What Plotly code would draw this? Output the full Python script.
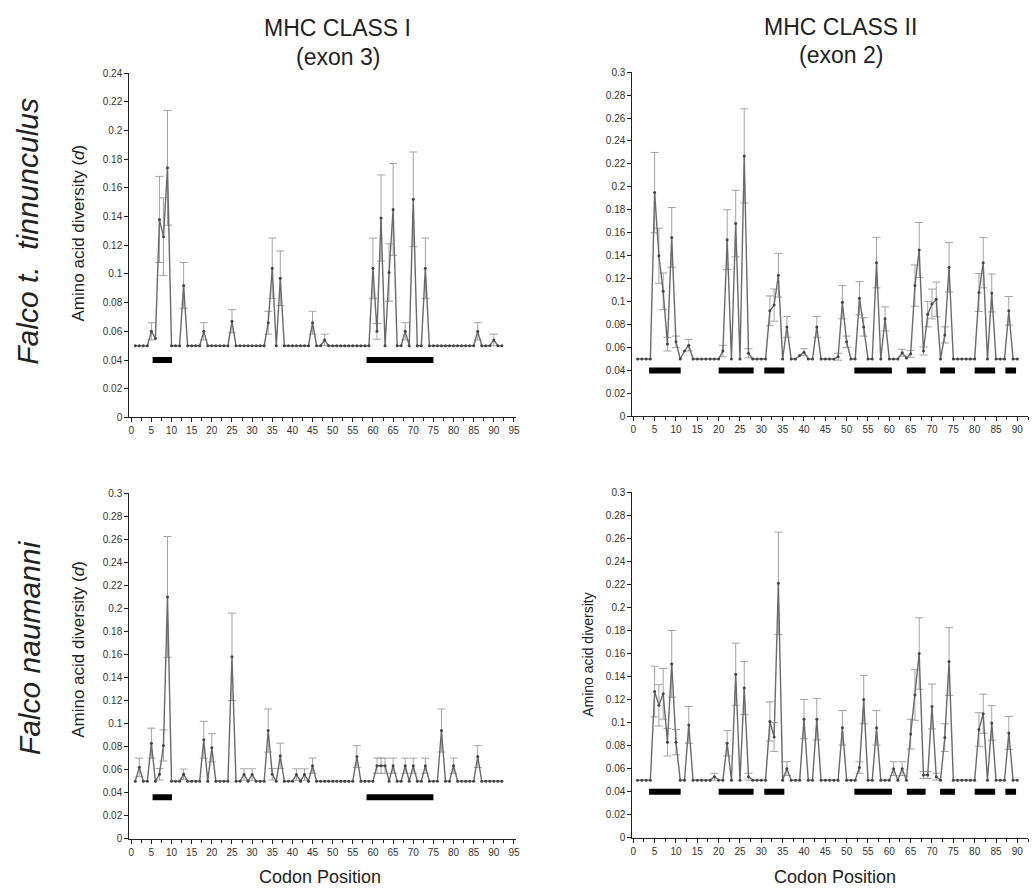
import plotly.graph_objects as go

# ---------------- data ----------------
# MHC class I (exon 3), Falco t. tinnunculus, codons 1..92
c1_tin_x = list(range(1, 93))
c1_tin_y = [0.05, 0.05, 0.05, 0.05, 0.060, 0.055, 0.138, 0.126, 0.174, 0.05,
            0.05, 0.05, 0.092, 0.05, 0.05, 0.05, 0.05, 0.060, 0.05, 0.05,
            0.05, 0.05, 0.05, 0.05, 0.067, 0.05, 0.05, 0.05, 0.05, 0.05,
            0.05, 0.05, 0.05, 0.066, 0.104, 0.05, 0.097, 0.05, 0.05, 0.05,
            0.05, 0.05, 0.05, 0.05, 0.066, 0.05, 0.05, 0.054, 0.05, 0.05,
            0.05, 0.05, 0.05, 0.05, 0.05, 0.05, 0.05, 0.05, 0.05, 0.104,
            0.060, 0.139, 0.05, 0.101, 0.145, 0.05, 0.05, 0.060, 0.05, 0.152,
            0.05, 0.05, 0.104, 0.05, 0.05, 0.05, 0.05, 0.05, 0.05, 0.05,
            0.05, 0.05, 0.05, 0.05, 0.05, 0.060, 0.05, 0.05, 0.05, 0.054,
            0.05, 0.05]
c1_tin_err = [None, None, None, None, 0.006, None, 0.030, 0.027, 0.040, None,
              None, None, 0.016, None, None, None, None, 0.006, None, None,
              None, None, None, None, 0.008, None, None, None, None, None,
              None, None, None, 0.008, 0.021, None, 0.019, None, None, None,
              None, None, None, None, 0.008, None, None, 0.004, None, None,
              None, None, None, None, None, None, None, None, None, 0.021,
              0.0055, 0.030, None, 0.020, 0.032, None, None, 0.006, None, 0.033,
              None, None, 0.021, None, None, None, None, None, None, None,
              None, None, None, None, None, 0.006, None, None, None, 0.004,
              None, None]

# MHC class II (exon 2), Falco t. tinnunculus, codons 1..90
c2_tin_x = list(range(1, 91))
c2_tin_y = [0.05, 0.05, 0.05, 0.05, 0.195, 0.140, 0.109, 0.063, 0.156, 0.065,
            0.05, 0.057, 0.062, 0.05, 0.05, 0.05, 0.05, 0.05, 0.05, 0.05,
            0.057, 0.154, 0.05, 0.168, 0.05, 0.227, 0.055, 0.05, 0.05, 0.05,
            0.05, 0.092, 0.097, 0.123, 0.05, 0.078, 0.05, 0.05, 0.053, 0.056,
            0.05, 0.05, 0.078, 0.05, 0.05, 0.05, 0.05, 0.052, 0.0995, 0.065,
            0.05, 0.05, 0.103, 0.078, 0.05, 0.05, 0.134, 0.05, 0.085, 0.05,
            0.05, 0.05, 0.0555, 0.051, 0.0545, 0.114, 0.145, 0.057, 0.089, 0.098,
            0.102, 0.05, 0.071, 0.130, 0.05, 0.05, 0.05, 0.05, 0.05, 0.05,
            0.108, 0.134, 0.05, 0.1075, 0.05, 0.05, 0.05, 0.092, 0.05, 0.05]
c2_tin_err = [None, None, None, None, 0.035, 0.024, 0.016, 0.006, 0.026, 0.005,
              None, None, 0.005, None, None, None, None, None, None, None,
              0.005, 0.026, None, 0.029, None, 0.041, 0.004, None, None, None,
              None, 0.013, 0.014, 0.019, None, 0.009, None, None, None, 0.003,
              None, None, 0.009, None, None, None, None, 0.003, 0.0145, 0.005,
              None, None, 0.0145, 0.008, None, None, 0.022, None, 0.0105, None,
              None, None, 0.003, None, 0.003, 0.018, 0.024, 0.0035, 0.011, 0.013,
              0.015, None, 0.007, 0.0215, None, None, None, None, None, None,
              0.0165, 0.022, None, 0.0165, None, None, None, 0.0125, None, None]

# MHC class I (exon 3), Falco naumanni, codons 1..92
c1_nau_x = list(range(1, 93))
c1_nau_y = [0.05, 0.062, 0.05, 0.05, 0.083, 0.05, 0.056, 0.081, 0.210, 0.05,
            0.05, 0.05, 0.056, 0.05, 0.05, 0.05, 0.05, 0.086, 0.05, 0.079,
            0.05, 0.05, 0.05, 0.05, 0.158, 0.05, 0.05, 0.0557, 0.05, 0.0557,
            0.05, 0.05, 0.05, 0.094, 0.056, 0.05, 0.072, 0.05, 0.05, 0.05,
            0.0557, 0.05, 0.0557, 0.05, 0.0634, 0.05, 0.05, 0.05, 0.05, 0.05,
            0.05, 0.05, 0.05, 0.05, 0.05, 0.0714, 0.05, 0.05, 0.05, 0.05,
            0.0634, 0.0634, 0.0634, 0.05, 0.0634, 0.05, 0.05, 0.0634, 0.05, 0.0634,
            0.05, 0.05, 0.0634, 0.05, 0.05, 0.05, 0.094, 0.05, 0.05, 0.0634,
            0.05, 0.05, 0.05, 0.05, 0.05, 0.0714, 0.05, 0.05, 0.05, 0.05,
            0.05, 0.05]
c1_nau_err = [None, 0.008, None, None, 0.013, None, 0.005, 0.0135, 0.0525, None,
              None, None, 0.0045, None, None, None, None, 0.016, None, 0.0123,
              None, None, None, None, 0.038, None, None, 0.005, None, 0.005,
              None, None, None, 0.0187, 0.005, None, 0.011, None, None, None,
              0.005, None, 0.005, None, 0.0066, None, None, None, None, None,
              None, None, None, None, None, 0.0095, None, None, None, None,
              0.0066, 0.0066, 0.0066, None, 0.0066, None, None, 0.0066, None, 0.0066,
              None, None, 0.0066, None, None, None, 0.0187, None, None, 0.0066,
              None, None, None, None, None, 0.0095, None, None, None, None,
              None, None]

# MHC class II (exon 2), Falco naumanni, codons 1..90
c2_nau_x = list(range(1, 91))
c2_nau_y = [0.05, 0.05, 0.05, 0.05, 0.127, 0.115, 0.125, 0.083, 0.151, 0.083,
            0.05, 0.05, 0.098, 0.05, 0.05, 0.05, 0.05, 0.05, 0.053, 0.05,
            0.05, 0.082, 0.05, 0.142, 0.05, 0.130, 0.053, 0.05, 0.05, 0.05,
            0.05, 0.101, 0.0875, 0.221, 0.05, 0.060, 0.05, 0.05, 0.05, 0.103,
            0.05, 0.05, 0.103, 0.05, 0.05, 0.05, 0.05, 0.05, 0.0955, 0.05,
            0.05, 0.05, 0.061, 0.120, 0.05, 0.05, 0.0955, 0.05, 0.05, 0.05,
            0.060, 0.05, 0.060, 0.05, 0.090, 0.124, 0.160, 0.0545, 0.0545, 0.114,
            0.053, 0.05, 0.087, 0.153, 0.05, 0.05, 0.05, 0.05, 0.05, 0.05,
            0.094, 0.1077, 0.05, 0.0997, 0.05, 0.05, 0.05, 0.091, 0.05, 0.05]
c2_nau_err = [None, None, None, None, 0.022, 0.018, 0.022, 0.012, 0.029, 0.011,
              None, None, 0.016, None, None, None, None, None, 0.003, None,
              None, 0.011, None, 0.027, None, 0.023, 0.003, None, None, None,
              None, 0.017, 0.0125, 0.0445, None, 0.006, None, None, None, 0.017,
              None, None, 0.018, None, None, None, None, None, 0.015, None,
              None, None, 0.005, 0.021, None, None, 0.015, None, None, None,
              0.006, None, 0.006, None, 0.013, 0.022, 0.031, 0.003, 0.003, 0.0195,
              0.003, None, 0.012, 0.0295, None, None, None, None, None, None,
              0.0146, 0.017, None, 0.015, None, None, None, 0.0143, None, None]

# black bars (putative binding-site regions)
c1_bar_start = [5.3, 58.4]
c1_bar_end = [10.1, 75.0]
c2_bar_start = [3.7, 20.0, 30.7, 51.8, 64.1, 71.9, 80.0, 87.2]
c2_bar_end = [11.1, 28.2, 35.4, 60.6, 68.5, 75.4, 84.8, 89.7]
bar_level_tin = 0.04
bar_level_nau_c1 = 0.036
bar_level_nau_c2 = 0.04

x_ticks_c1 = list(range(0, 96, 5))
x_ticks_c2 = list(range(0, 91, 5))

# ---------------- figure ----------------
W, H = 1033, 896
FONT = "Liberation Sans, Arial, sans-serif"


def fx(p):
    return p / W


def fy(p):
    return 1 - p / H


LINE_C = "#6a6a6a"
ERR_C = "#a3a3a3"
MARK_C = "#444444"

fig = go.Figure()


def add_panel(xs, ys, errs, bar_s, bar_e, bar_y, xa, ya):
    ex = [x for x, e in zip(xs, errs) if e is not None]
    ey = [y for y, e in zip(ys, errs) if e is not None]
    ee = [e for e in errs if e is not None]
    fig.add_trace(go.Scatter(
        x=ex, y=ey, mode="markers", xaxis=xa, yaxis=ya,
        marker=dict(size=1, color="rgba(0,0,0,0)"),
        error_y=dict(type="data", array=ee, color=ERR_C, thickness=1, width=4),
        showlegend=False, hoverinfo="skip"))
    fig.add_trace(go.Scatter(
        x=xs, y=ys, mode="lines+markers", xaxis=xa, yaxis=ya,
        line=dict(color=LINE_C, width=1.4),
        marker=dict(size=3, color=MARK_C),
        showlegend=False))
    bx, by = [], []
    for s, e in zip(bar_s, bar_e):
        bx += [s, e, None]
        by += [bar_y, bar_y, None]
    fig.add_trace(go.Scatter(
        x=bx, y=by, mode="lines", xaxis=xa, yaxis=ya,
        line=dict(color="black", width=6), showlegend=False))


add_panel(c1_tin_x, c1_tin_y, c1_tin_err, c1_bar_start, c1_bar_end, bar_level_tin, "x", "y")
add_panel(c2_tin_x, c2_tin_y, c2_tin_err, c2_bar_start, c2_bar_end, bar_level_tin, "x2", "y2")
add_panel(c1_nau_x, c1_nau_y, c1_nau_err, c1_bar_start, c1_bar_end, bar_level_nau_c1, "x3", "y3")
add_panel(c2_nau_x, c2_nau_y, c2_nau_err, c2_bar_start, c2_bar_end, bar_level_nau_c2, "x4", "y4")

axis_common = dict(showline=True, linecolor="#222", linewidth=1, ticks="outside",
                   ticklen=4, tickcolor="#222", tickwidth=1, showgrid=False,
                   zeroline=False, tickfont=dict(family=FONT, size=10, color="#333"))
xcommon = dict(axis_common, tickmode="array",
               minor=dict(ticks="outside", ticklen=3, tickcolor="#222", dtick=2.5, tick0=0))
ycommon = dict(axis_common, dtick=0.02, tick0=0)

fig.update_layout(
    width=W, height=H,
    margin=dict(l=0, r=0, t=0, b=0),
    paper_bgcolor="white", plot_bgcolor="white",
    xaxis=dict(xcommon, domain=[fx(128), fx(517)], range=[-0.49, 95.5],
               tickvals=x_ticks_c1, anchor="y"),
    yaxis=dict(ycommon, domain=[fy(417), fy(68)], range=[0, 0.24], anchor="x"),
    xaxis2=dict(xcommon, domain=[fx(634), fx(1032)], range=[-0.23, 92.5],
                tickvals=x_ticks_c2, anchor="y2"),
    yaxis2=dict(ycommon, domain=[fy(416), fy(67)], range=[0, 0.3], anchor="x2"),
    xaxis3=dict(xcommon, domain=[fx(128), fx(517)], range=[-0.49, 95.5],
                tickvals=x_ticks_c1, anchor="y3"),
    yaxis3=dict(ycommon, domain=[fy(844), fy(494)], range=[0, 0.3], anchor="x3"),
    xaxis4=dict(xcommon, domain=[fx(634), fx(1032)], range=[-0.23, 92.5],
                tickvals=x_ticks_c2, anchor="y4"),
    yaxis4=dict(ycommon, domain=[fy(843), fy(493)], range=[0, 0.3], anchor="x4"),
)


def ann(text, px, py, size, angle=0, color="#222"):
    fig.add_annotation(text=text, x=fx(px), y=fy(py), xref="paper", yref="paper",
                       showarrow=False, textangle=angle, xanchor="center",
                       yanchor="middle", font=dict(family=FONT, size=size, color=color))


ann("MHC CLASS I", 337, 22, 23)
ann("(exon 3)", 338, 52, 23)
ann("MHC CLASS II", 843, 21, 23)
ann("(exon 2)", 844, 50, 23)
ann("<i>Falco t.  tinnunculus</i>", 26, 228, 30, -90)
ann("<i>Falco naumanni</i>", 27, 650, 30, -90)
ann("Amino acid diversity (<i>d</i>)", 77, 230, 17, -90)
ann("Amino acid diversity (<i>d</i>)", 77, 652, 17, -90)
ann("Amino acid diversity", 590, 657, 14, -90)
ann("Codon Position", 320, 883, 18)
ann("Codon Position", 838, 883, 18)

fig.write_html(
    "out.html",
    config={"displayModeBar": False},
    post_script="document.body.style.margin='0';document.body.style.overflow='hidden';",
)
